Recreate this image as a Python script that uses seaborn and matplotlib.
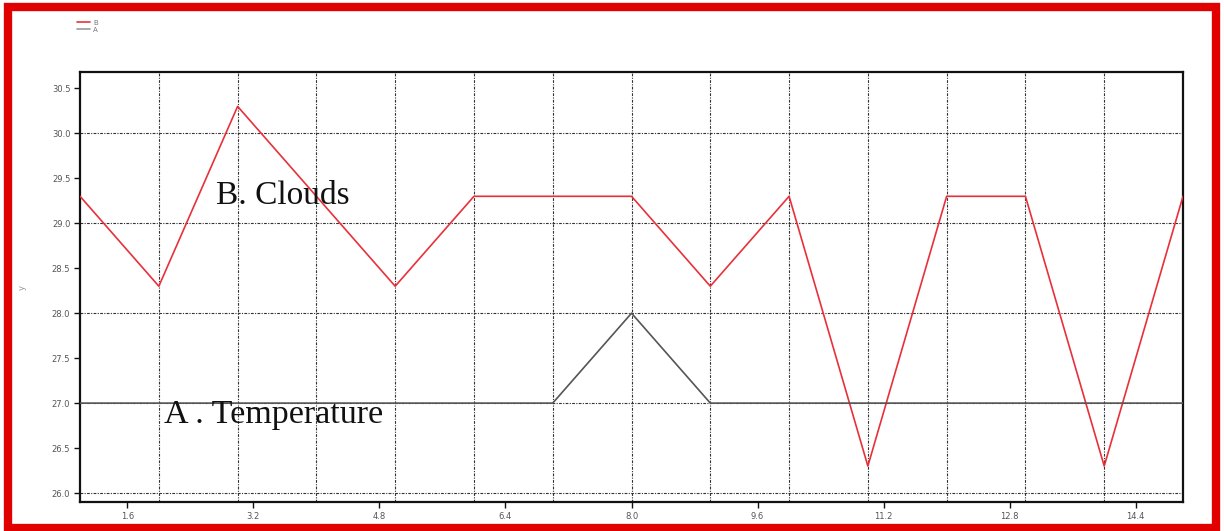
import matplotlib
matplotlib.use("Agg")
import matplotlib.pyplot as plt
import matplotlib.patches as mpatches
import numpy as np
import pandas as pd
import seaborn as sns

# Sampled series
x_vals = [1, 2, 3, 4, 5, 6, 7, 8, 9, 10, 11, 12, 13, 14, 15]
clouds = [29.3, 28.3, 30.3, 29.3, 28.3, 29.3, 29.3, 29.3, 28.3, 29.3, 26.3, 29.3, 29.3, 26.3, 29.3]
temperature = [27.0, 27.0, 27.0, 27.0, 27.0, 27.0, 27.0, 28.0, 27.0, 27.0, 27.0, 27.0, 27.0, 27.0, 27.0]

x_ticks = [1.6, 3.2, 4.8, 6.4, 8.0, 9.6, 11.2, 12.8, 14.4]
y_ticks = [26.0, 26.5, 27.0, 27.5, 28.0, 28.5, 29.0, 29.5, 30.0, 30.5]

df = pd.DataFrame({
    "x": x_vals * 2,
    "y": clouds + temperature,
    "series": ["B"] * len(x_vals) + ["A"] * len(x_vals),
})

sns.set_theme(style="white")
plt.rcParams["font.family"] = ["DejaVu Sans"]

fig = plt.figure(figsize=(12.24, 5.31), dpi=100)
ax = fig.add_axes([0.0654, 0.0546, 0.9011, 0.8094])

# integer grid, dash-dot
for gx in range(2, 15):
    ax.axvline(gx, color="#333333", lw=0.8, ls=(0, (2.5, 1.2, 1, 1.2)), zorder=1)
for gy in range(26, 31):
    ax.axhline(gy, color="#333333", lw=0.8, ls=(0, (2.5, 1.2, 1, 1.2)), zorder=1)

sns.lineplot(data=df, x="x", y="y", hue="series",
             palette={"B": "#e8303a", "A": "#555555"},
             linewidth=1.2, ax=ax, legend=False, zorder=3)

ax.set_xlim(1, 15)
ax.set_ylim(25.9, 30.68)
ax.set_xticks(x_ticks)
ax.set_xticklabels([f"{v:.1f}" for v in x_ticks], fontsize=6, color="#555555")
ax.set_yticks(y_ticks)
ax.set_yticklabels([f"{v:.1f}" for v in y_ticks], fontsize=6, color="#555555")
ax.tick_params(axis="both", direction="out", length=4, width=1, color="#111111",
               bottom=True, left=True, pad=3)
ax.set_xlabel("")
ax.set_ylabel("y", fontsize=6, color="#999999", labelpad=18)
for sp in ax.spines.values():
    sp.set_color("#111111")
    sp.set_linewidth(1.6)

ax.text(2.72, 29.31, "B. Clouds", fontsize=24, family="Liberation Serif",
        va="center", ha="left", color="#111111", zorder=4)
ax.text(2.06, 26.87, "A . Temperature", fontsize=24.5, family="Liberation Serif",
        va="center", ha="left", color="#111111", zorder=4)

handles = [
    plt.Line2D([], [], color="#e8303a", lw=1.2, label="B"),
    plt.Line2D([], [], color="#999999", lw=1.2, label="A"),
]
fig.legend(handles=handles, loc="upper left", bbox_to_anchor=(0.058, 0.975),
           fontsize=5, frameon=False, handlelength=1.8, handletextpad=0.5,
           labelspacing=0.2, labelcolor="#777777")

# red frame around the figure
fig.patches.append(mpatches.Rectangle((0.0065, 0.006), 0.987, 0.981,
                                      transform=fig.transFigure, fill=False,
                                      edgecolor="#e00000", linewidth=6, zorder=10))

fig.savefig("out.png", dpi=100)
